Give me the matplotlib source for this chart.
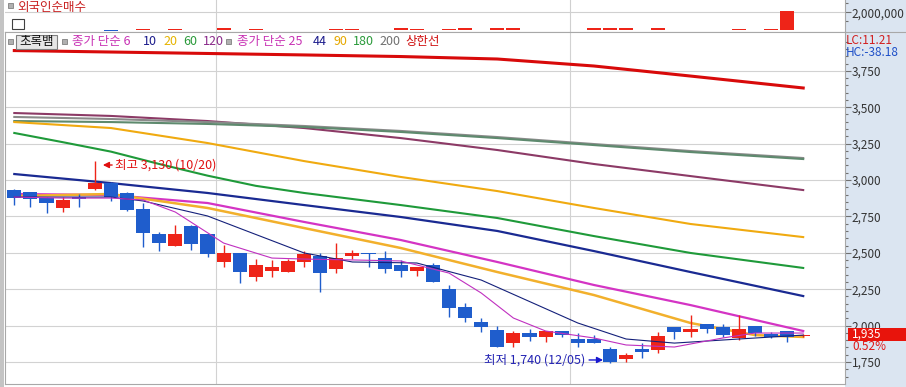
import matplotlib
matplotlib.use('Agg')
import matplotlib.pyplot as plt
from matplotlib.patches import Rectangle
from matplotlib.lines import Line2D
from matplotlib.ticker import FixedLocator, FuncFormatter

plt.rcParams['font.family'] = ['Noto Sans CJK KR', 'DejaVu Sans']

W, H = 906, 387

# daily candles (Korean convention: red = up, blue = down)
opens = [2931, 2915, 2878, 2810, 2878, 2940, 2977, 2913, 2799, 2629,
         2549, 2684, 2629, 2439, 2501, 2332, 2377, 2370, 2435, 2478,
         2387, 2480, 2501, 2462, 2416, 2377, 2416, 2249, 2126, 2027,
         1970, 1883, 1947, 1924, 1963, 1906, 1906, 1839, 1771, 1837,
         1832, 1988, 1956, 2009, 1988, 1917, 1997, 1942, 1963, 1928]
highs = [2935, 2920, 2885, 2885, 2902, 3130, 2984, 2920, 2840, 2645,
         2691, 2690, 2629, 2554, 2501, 2457, 2451, 2457, 2514, 2501,
         2565, 2519, 2501, 2512, 2451, 2400, 2428, 2279, 2153, 2050,
         1997, 1965, 1975, 1963, 1965, 1947, 1935, 1855, 1810, 1878,
         1958, 1988, 2073, 2009, 2011, 2073, 1997, 1958, 1963, 1940]
lows = [2828, 2817, 2775, 2782, 2817, 2931, 2858, 2790, 2542, 2514,
        2549, 2519, 2469, 2400, 2295, 2308, 2336, 2370, 2405, 2233,
        2363, 2455, 2400, 2363, 2336, 2341, 2302, 2061, 2027, 1958,
        1855, 1855, 1896, 1889, 1922, 1855, 1878, 1740, 1752, 1775,
        1810, 1906, 1924, 1951, 1920, 1901, 1929, 1917, 1889, 1925]
closes = [2878, 2872, 2844, 2863, 2872, 2977, 2885, 2794, 2634, 2569,
          2629, 2560, 2492, 2497, 2370, 2416, 2405, 2444, 2492, 2359,
          2462, 2501, 2490, 2387, 2377, 2400, 2302, 2119, 2050, 1988,
          1855, 1947, 1920, 1963, 1935, 1884, 1878, 1750, 1798, 1817,
          1929, 1956, 1975, 1975, 1935, 1975, 1947, 1924, 1925, 1935]

# foreign net buying (shares)
foreign = [-50000, -50000, -50000, -40000, -40000, -50000, -60000, -50000, 110000, -50000,
           110000, -50000, -50000, 200000, -50000, 110000, -40000, -40000, -50000, -50000,
           110000, 110000, -50000, -50000, 200000, 110000, -50000, 110000, 200000, -50000,
           200000, 200000, -50000, -50000, -50000, -50000, 200000, 200000, 200000, -50000,
           200000, -50000, -50000, -50000, -50000, 110000, -50000, 110000, 2100000, 0]

# moving averages at sample candles
ma_idx = [0, 6, 12, 18, 24, 30, 36, 42, 49]
upper_line = [3889, 3879, 3869, 3859, 3848, 3831, 3783, 3714, 3632]
ma120 = [3460, 3440, 3405, 3357, 3288, 3206, 3110, 3027, 2931]
ma200 = [3433, 3419, 3398, 3371, 3337, 3295, 3247, 3199, 3151]
ma180 = [3405, 3398, 3385, 3364, 3330, 3288, 3240, 3192, 3144]
ma90 = [3398, 3357, 3254, 3130, 3021, 2924, 2808, 2698, 2608]
ma60_idx = [0, 3, 6, 9, 12, 15, 18, 24, 30, 36, 42, 49]
ma60 = [3323, 3260, 3195, 3110, 3030, 2960, 2911, 2828, 2739, 2615, 2499, 2396]
ma44 = [3041, 2979, 2911, 2828, 2746, 2650, 2512, 2368, 2203]
ma25 = [2904, 2897, 2842, 2712, 2588, 2437, 2279, 2141, 1963]
ma20_idx = [0, 6, 12, 18, 24, 30, 36, 42, 46, 49]
ma20 = [2890, 2904, 2808, 2670, 2533, 2368, 2210, 2018, 1935, 1922]
ma10_idx = [0, 3, 6, 8, 12, 18, 21, 25, 29, 35, 38, 41, 45, 49]
ma10 = [2883, 2883, 2883, 2856, 2753, 2499, 2437, 2430, 2313, 2018, 1908, 1880, 1908, 1935]
ma6_idx = [0, 3, 6, 8, 10, 13, 16, 18, 21, 24, 27, 29, 31, 33, 36, 38, 41, 44, 46, 49]
ma6 = [2883, 2876, 2876, 2863, 2780, 2567, 2464, 2457, 2451, 2444,
       2361, 2224, 2052, 1963, 1915, 1867, 1853, 1915, 1949, 1949]

price_ticks = [1750, 2000, 2250, 2500, 2750, 3000, 3250, 3500, 3750]

RED = '#ee2418'
BLUE = '#1f5dcc'
KFONT = 9


def box(x0, y0, x1, y1):
    return [x0 / W, 1 - y1 / H, (x1 - x0) / W, (y1 - y0) / H]


def ftext(x, y, s, **kw):
    kw.setdefault('fontsize', 8.5)
    kw.setdefault('va', 'center')
    return fig.text(x / W, 1 - y / H, s, **kw)


def fbox(x0, y0, x1, y1, **kw):
    fig.patches.append(Rectangle((x0 / W, 1 - y1 / H), (x1 - x0) / W, (y1 - y0) / H,
                                 transform=fig.transFigure, **kw))


fig = plt.figure(figsize=(W / 100, H / 100), dpi=100)
fig.patch.set_facecolor('white')

# right scale strip and left border (behind the axes)
fbox(845, 0, 906, 387, facecolor='#dbe5f1', edgecolor='none', zorder=-5)
fbox(0, 0, 4, 387, facecolor='#c4c4c4', edgecolor='none', zorder=-5)
fig.lines.append(Line2D([845 / W, 1], [1 - 31.5 / H, 1 - 31.5 / H], transform=fig.transFigure,
                        color='#a8a8a8', lw=0.8, zorder=-4))

xmin = -0.578
xmax = xmin + 840 / 16.1

# ---------- top panel: foreign net buying
ax2 = fig.add_axes(box(5, 0, 845, 31.5))
ax2.set_facecolor('white')
ax2.set_xlim(xmin, xmax)
ax2.set_ylim(-169500, 3390000)
fcol = [RED if v >= 0 else BLUE for v in foreign]
ax2.bar(range(len(foreign)), foreign, width=0.88, color=fcol, zorder=3)
ax2.axhline(2000000, color='#d0d0d0', lw=0.8, zorder=1)
for xv in [12.5, 34.5]:
    ax2.axvline(xv, color='#d0d0d0', lw=0.8, zorder=1)
ax2.set_xticks([])
ax2.yaxis.tick_right()
ax2.yaxis.set_major_locator(FixedLocator([2000000]))
ax2.yaxis.set_minor_locator(FixedLocator([1000000, 3000000]))
ax2.yaxis.set_major_formatter(FuncFormatter(lambda v, p: f'{int(v):,}'))
ax2.tick_params(axis='y', which='major', length=4, width=0.8, color='#707070',
                labelsize=8.5, labelcolor='#333333', pad=1)
ax2.tick_params(axis='y', which='minor', length=2, width=0.8, color='#707070')
for s in ax2.spines.values():
    s.set_color('#a8a8a8')
    s.set_linewidth(0.8)
ax2.spines['top'].set_visible(False)
ax2.spines['left'].set_visible(False)

# ---------- main price panel
ax = fig.add_axes(box(5, 32, 845, 384))
ax.set_facecolor('white')
ax.set_xlim(xmin, xmax)
ax.set_ylim(1599, 4016.5)
for v in price_ticks:
    ax.axhline(v, color='#d2d2d2', lw=0.8, zorder=1)
for xv in [12.5, 34.5]:
    ax.axvline(xv, color='#d2d2d2', lw=0.8, zorder=1)

ax.plot(ma_idx, upper_line, color='#d80a0a', lw=2.2, zorder=2)
ax.plot(ma_idx, ma120, color='#8c3a66', lw=1.5, zorder=2)
ax.plot(ma_idx, ma200, color='#8a8a8a', lw=1.5, zorder=2)
ax.plot(ma_idx, ma180, color='#5e8a6e', lw=1.5, zorder=2)
ax.plot(ma_idx, ma90, color='#f0aa10', lw=1.5, zorder=2)
ax.plot(ma60_idx, ma60, color='#1f9a3a', lw=1.5, zorder=2)
ax.plot(ma_idx, ma44, color='#1a2a92', lw=1.6, zorder=2)
ax.plot(ma_idx, ma25, color='#d434c4', lw=1.6, zorder=2)
ax.plot(ma20_idx, ma20, color='#f2b02c', lw=1.8, zorder=2)
ax.plot(ma10_idx, ma10, color='#14207a', lw=0.8, zorder=4)
ax.plot(ma6_idx, ma6, color='#c030c0', lw=0.8, zorder=4)

for i in range(len(opens)):
    o, h, l, c = opens[i], highs[i], lows[i], closes[i]
    col = RED if c >= o else BLUE
    ax.vlines(i, l, h, color=col, lw=1, zorder=3)
    hgt = max(abs(c - o), 8)
    ax.bar(i, hgt, bottom=min(o, c), width=0.88, color=col, lw=0, zorder=3)

ax.set_xticks([])
ax.yaxis.tick_right()
ax.yaxis.set_major_locator(FixedLocator(price_ticks))
ax.yaxis.set_minor_locator(FixedLocator(list(range(1650, 4000, 50))))
ax.yaxis.set_major_formatter(FuncFormatter(lambda v, p: f'{int(v):,}'))
ax.tick_params(axis='y', which='major', length=4, width=0.8, color='#707070',
               labelsize=8.5, labelcolor='#333333', pad=1)
ax.tick_params(axis='y', which='minor', length=2, width=0.8, color='#707070')
for s in ax.spines.values():
    s.set_color('#a8a8a8')
    s.set_linewidth(0.8)

# high / low annotations
ax.annotate('최고 3,130 (10/20)', xy=(5.5, 3103), xytext=(6.25, 3103),
            color='#e01010', fontsize=KFONT, va='center', ha='left',
            arrowprops=dict(arrowstyle='-|>', color='#e01010', lw=1,
                            shrinkA=0, shrinkB=0, mutation_scale=9), zorder=6)
ax.text(35.45, 1764, '최저 1,740 (12/05)', color='#2424b4', fontsize=KFONT,
        va='center', ha='right', zorder=6)
ax.annotate('', xy=(36.57, 1764), xytext=(35.7, 1764),
            arrowprops=dict(arrowstyle='-|>', color='#1818d0', lw=1,
                            shrinkA=0, shrinkB=0, mutation_scale=9), zorder=6)

# ---------- header texts
fbox(8, 3, 13, 8, facecolor='#b0b0b0', edgecolor='#808080', lw=0.6, zorder=5)
ftext(17, 7, '외국인순매수', color='#c81e1e', fontsize=KFONT)
fbox(12, 19, 24, 29, facecolor='white', edgecolor='#404040', lw=0.8, zorder=5)

legend_row = [
    (72, '종가 단순 6', '#c832b4'), (143, '10', '#1c1c8c'), (163, '20', '#e6b400'),
    (183, '60', '#2a9a3a'), (203, '120', '#8a2a8a'),
    (237, '종가 단순 25', '#c832b4'), (313, '44', '#1c1c8c'), (333, '90', '#e6a800'),
    (353, '180', '#2a9a3a'), (379, '200', '#707070'), (405, '상한선', '#d01010'),
]
for bx in [8, 62, 226]:
    fbox(bx, 39, bx + 5, 44, facecolor='#b0b0b0', edgecolor='#808080', lw=0.6, zorder=5)
fbox(16, 34.5, 57, 48.5, facecolor='#e6e6e6', edgecolor='#808080', lw=0.8, zorder=5)
ftext(36.5, 41.5, '초록뱀', color='#111111', ha='center', zorder=6, fontsize=KFONT)
for x, s, c in legend_row:
    ftext(x, 41.5, s, color=c, zorder=6, fontsize=KFONT)

# ---------- right scale extras
ftext(846, 40, 'LC:11.21', color='#d21e1e', fontsize=8.5)
ftext(846, 52, 'HC:-38.18', color='#1e4fc8', fontsize=8.5)
fbox(848, 328, 906, 341, facecolor='#e8140c', edgecolor='none', zorder=8)
ftext(852, 334.5, '1,935', color='white', zorder=9)
ftext(852, 347, '0.52%', color='#e01818', zorder=9)

fig.savefig('out.png', dpi=100)
